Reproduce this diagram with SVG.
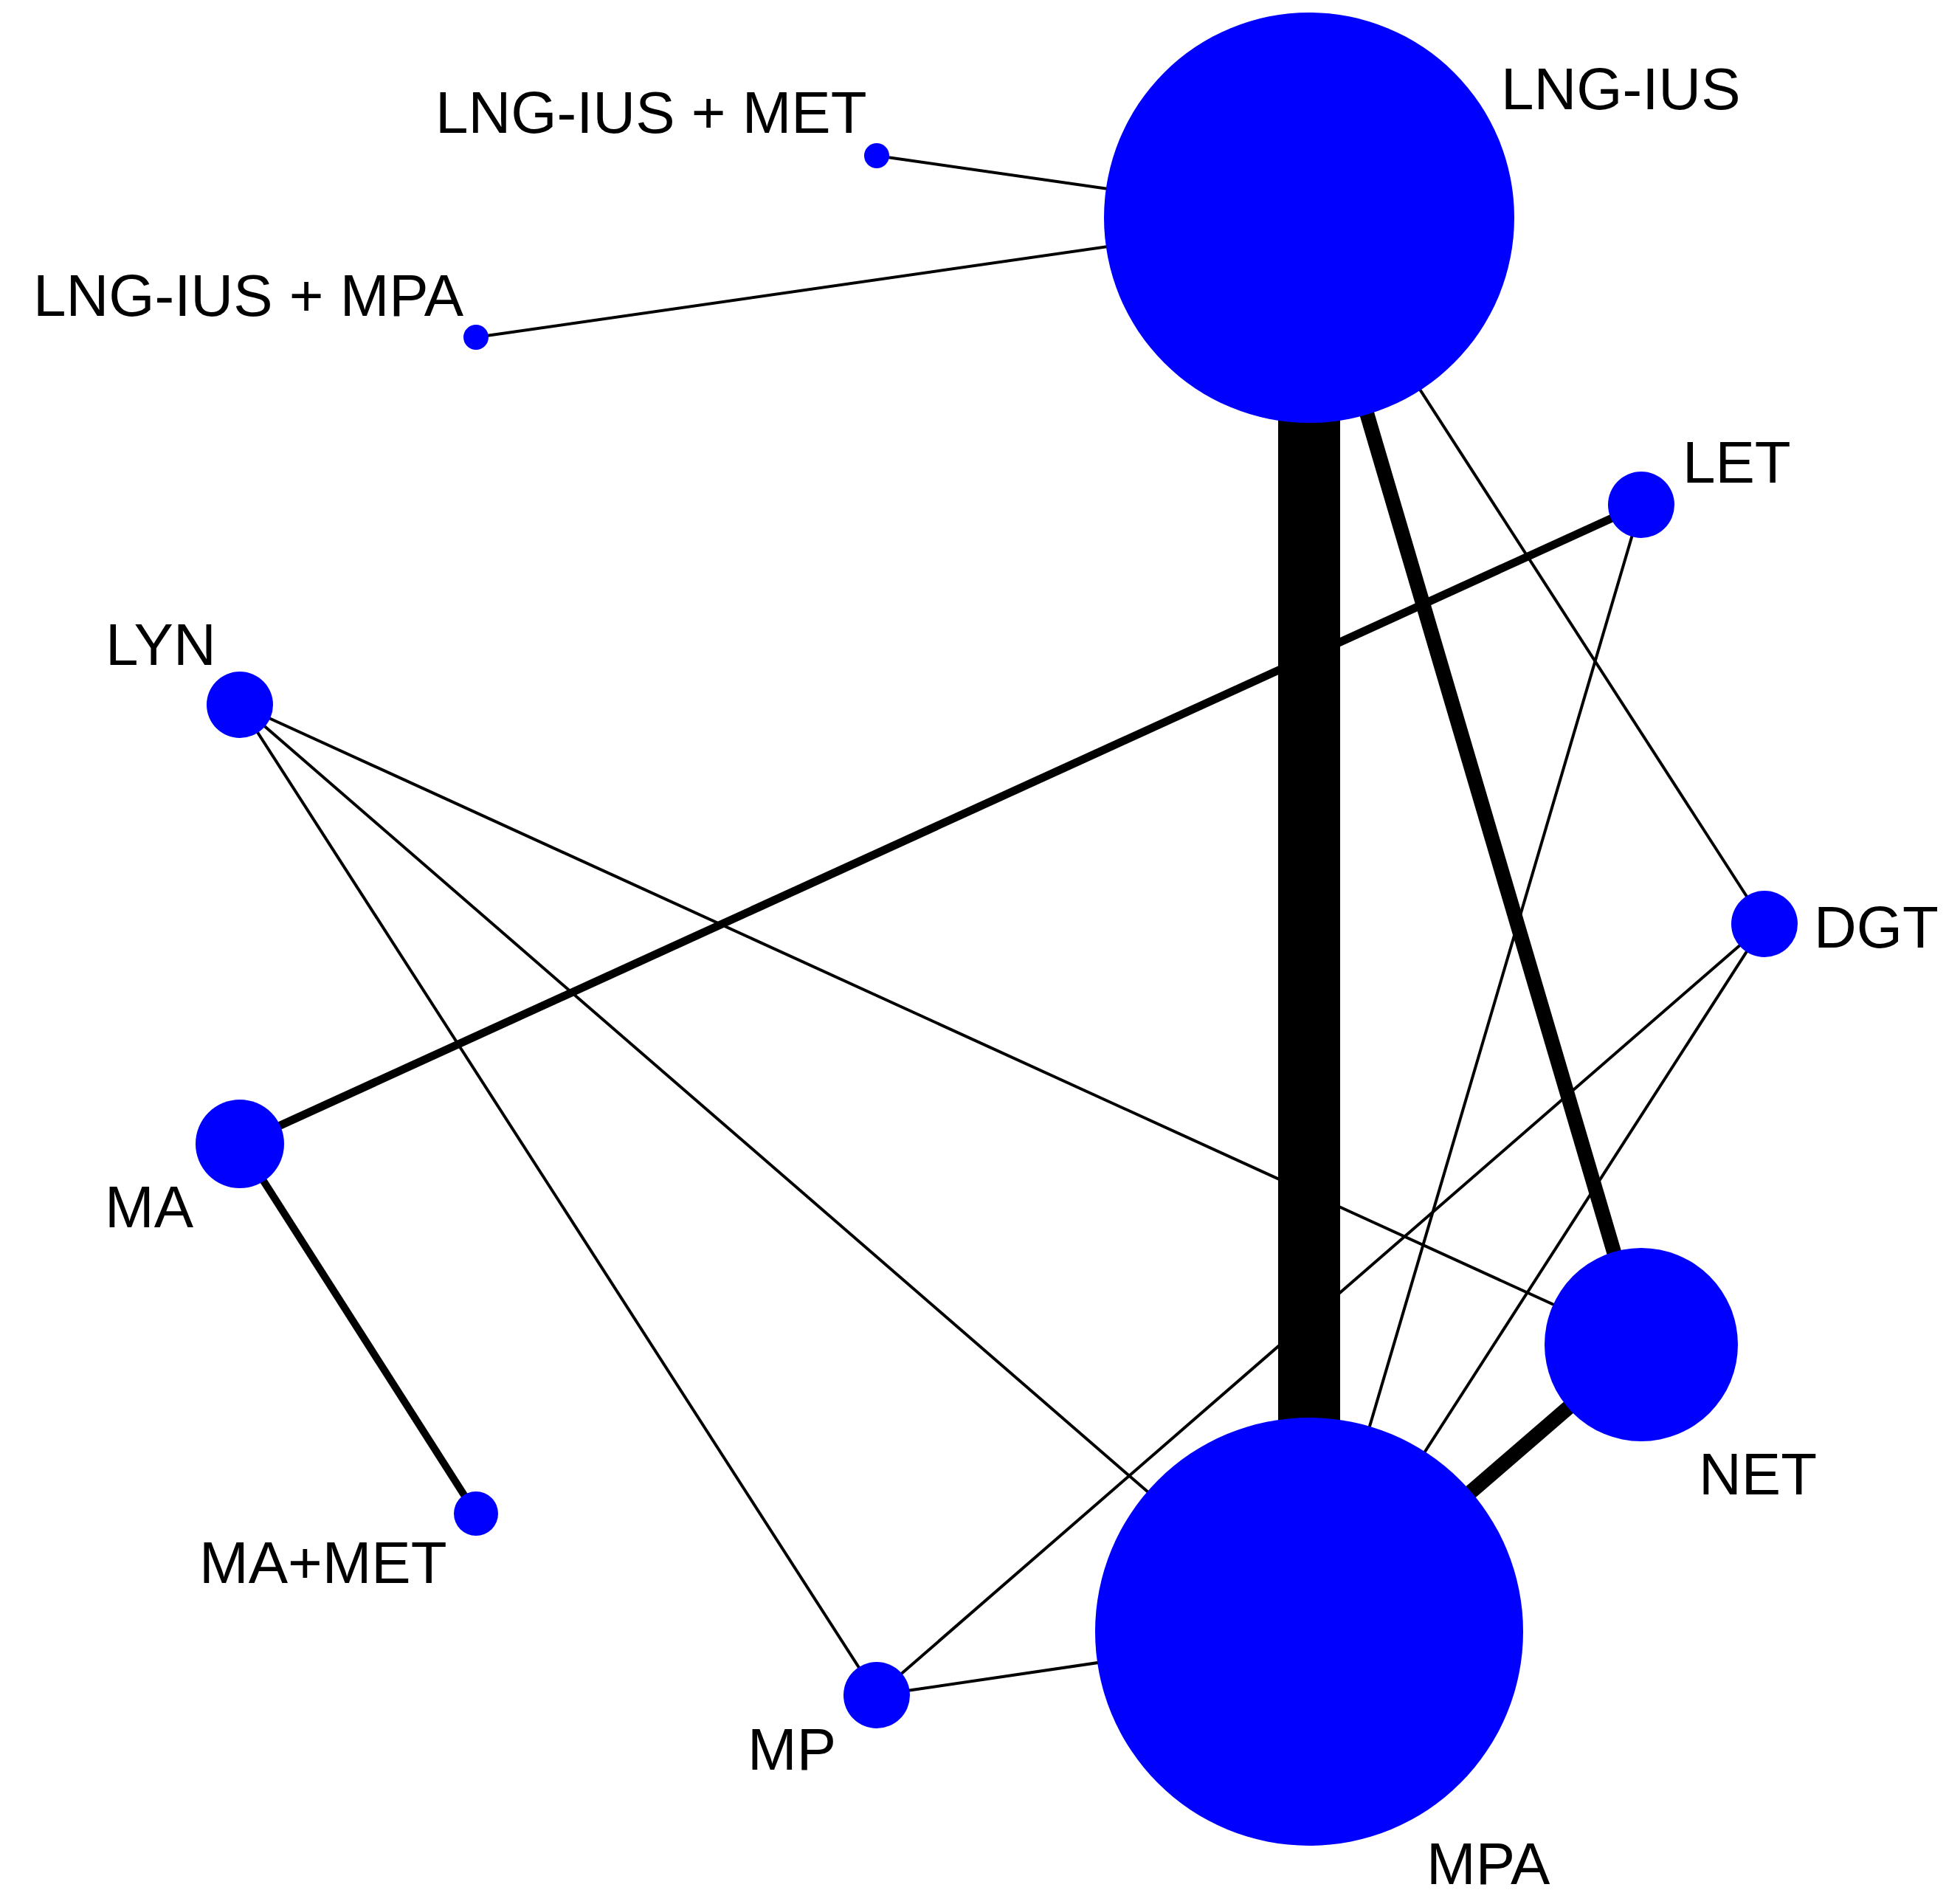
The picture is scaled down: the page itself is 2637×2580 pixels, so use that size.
<svg xmlns="http://www.w3.org/2000/svg" width="2637" height="2580" viewBox="0 0 2637 2580">
<style>
.e{stroke:#000;fill:none}
.n{fill:#0000FF}
text{font-family:"Liberation Sans",Arial,sans-serif;font-size:80px;fill:#000}
</style>
<rect width="2637" height="2580" fill="#fff"/>
<g id="connectors">
<line class="e" x1="1774" y1="295" x2="1774" y2="2211" stroke-width="84"/>
<line class="e" x1="1774" y1="295" x2="2224" y2="1822" stroke-width="20"/>
<line class="e" x1="1774" y1="295" x2="2391" y2="1252" stroke-width="4"/>
<line class="e" x1="1774" y1="295" x2="1188" y2="211" stroke-width="4"/>
<line class="e" x1="1774" y1="295" x2="645" y2="457" stroke-width="4"/>
<line class="e" x1="2224" y1="684" x2="325" y2="1550" stroke-width="11"/>
<line class="e" x1="2224" y1="684" x2="1774" y2="2211" stroke-width="4"/>
<line class="e" x1="325" y1="955" x2="2224" y2="1822" stroke-width="4"/>
<line class="e" x1="325" y1="955" x2="1774" y2="2211" stroke-width="4"/>
<line class="e" x1="325" y1="955" x2="1188" y2="2297" stroke-width="4"/>
<line class="e" x1="2391" y1="1252" x2="1774" y2="2211" stroke-width="4"/>
<line class="e" x1="2391" y1="1252" x2="1188" y2="2297" stroke-width="4"/>
<line class="e" x1="325" y1="1550" x2="645" y2="2051" stroke-width="10"/>
<line class="e" x1="2224" y1="1822" x2="1774" y2="2211" stroke-width="20"/>
<line class="e" x1="1188" y1="2297" x2="1774" y2="2211" stroke-width="4"/>
</g>
<g id="LNG-IUS"><circle class="n" cx="1774" cy="295" r="278"/><text x="2034" y="148">LNG-IUS</text></g>
<g id="MPA"><circle class="n" cx="1774" cy="2211" r="290"/><text x="1933" y="2553">MPA</text></g>
<g id="LNG-IUS_MET"><circle class="n" cx="1188" cy="211" r="17"/><text x="590" y="180">LNG-IUS + MET</text></g>
<g id="LNG-IUS_MPA"><circle class="n" cx="645" cy="457" r="17"/><text x="45" y="428">LNG-IUS + MPA</text></g>
<g id="LET"><circle class="n" cx="2224" cy="684" r="45"/><text x="2280" y="654">LET</text></g>
<g id="LYN"><circle class="n" cx="325" cy="955" r="45"/><text x="143" y="901">LYN</text></g>
<g id="DGT"><circle class="n" cx="2391" cy="1252" r="45"/><text x="2458" y="1284">DGT</text></g>
<g id="MA"><circle class="n" cx="325" cy="1550" r="60"/><text x="142" y="1663">MA</text></g>
<g id="NET"><circle class="n" cx="2224" cy="1822" r="131"/><text x="2302" y="2025">NET</text></g>
<g id="MA_MET"><circle class="n" cx="645" cy="2051" r="30"/><text x="270" y="2145">MA+MET</text></g>
<g id="MP"><circle class="n" cx="1188" cy="2297" r="45"/><text x="1013" y="2398">MP</text></g>
</svg>
